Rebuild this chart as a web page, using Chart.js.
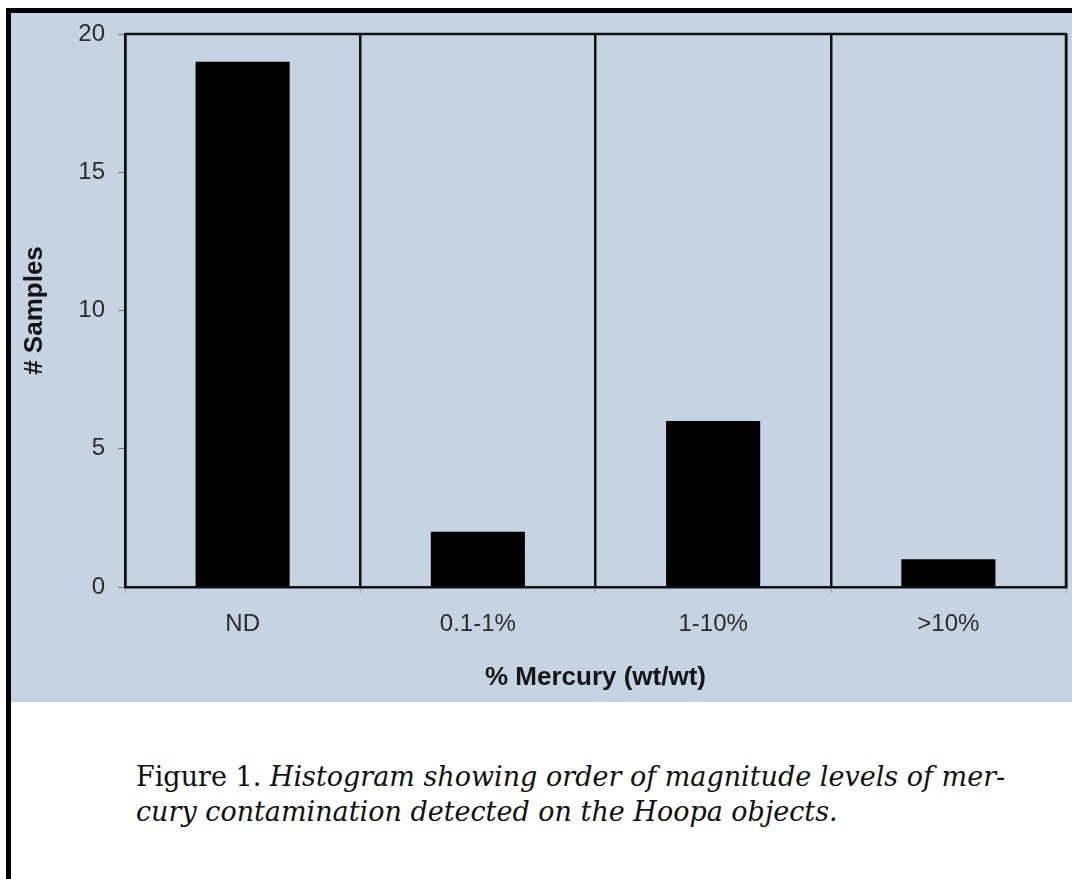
<!DOCTYPE html>
<html>
<head>
<meta charset="utf-8">
<script src="https://cdn.jsdelivr.net/npm/chart.js@4.4.0/dist/chart.umd.min.js"></script>
<style>
  html, body { margin: 0; padding: 0; background: #fff; }
  body { width: 1072px; height: 879px; position: relative; overflow: hidden; }
  #frame { position: absolute; left: 6px; top: 8px; right: 0; bottom: 0;
           border-left: 5px solid #000; border-top: 5px solid #000; }
  #panel { position: absolute; left: 11px; top: 13px; width: 1061px; height: 689px; background: #c6d3e2; }
  #caption { position: absolute; left: 136px; top: 759px; font-family: "DejaVu Serif", serif;
             font-size: 27px; line-height: 35px; color: #111; white-space: pre; }
  #caption i { font-style: italic; }
</style>
</head>
<body>
<div id="frame"></div>
<div id="panel"><canvas id="myChart" width="1061" height="689"></canvas></div>
<div id="caption">Figure 1. <i>Histogram showing order of magnitude levels of mer-</i>
<i>cury contamination detected on the Hoopa objects.</i></div>
<script>
const xLabels = ["ND", "0.1-1%", "1-10%", ">10%"];
const sampleCounts = [19, 2, 6, 1];
const yTicks = [0, 5, 10, 15, 20];

const axisFont = "'Liberation Sans', Arial, sans-serif";

// draws the top and right edges of the plot box
const plotFrame = {
  id: "plotFrame",
  afterDraw(chart) {
    const { ctx, chartArea: a } = chart;
    ctx.save();
    ctx.strokeStyle = "#111";
    ctx.lineWidth = 2.5;
    ctx.beginPath();
    ctx.moveTo(a.left, a.top);
    ctx.lineTo(a.right, a.top);
    ctx.lineTo(a.right, a.bottom);
    ctx.stroke();
    ctx.restore();
  }
};

new Chart("myChart", {
  type: "bar",
  data: {
    labels: xLabels,
    datasets: [
      {
        data: sampleCounts,
        backgroundColor: "#000",
        borderWidth: 0,
        barPercentage: 0.4,
        categoryPercentage: 1.0,
      },
    ],
  },
  options: {
    responsive: false,
    animation: false,
    layout: { padding: { top: 21, right: 6, left: 0, bottom: 0 } },
    plugins: {
      legend: { display: false },
      tooltip: { enabled: false },
    },
    scales: {
      x: {
        afterFit(scale) { scale.height = 115; },
        grid: {
          offset: true,
          color: "#111",
          lineWidth: 2.5,
          tickLength: 6,
          tickColor: "#9aa5b3",
          tickWidth: 1,
        },
        border: { color: "#111", width: 2.5 },
        ticks: {
          color: "#2b2b2b",
          padding: 17,
          font: { family: axisFont, size: 24 },
        },
        title: {
          display: true,
          text: "% Mercury (wt/wt)",
          color: "#151515",
          font: { family: axisFont, size: 26, weight: "bold" },
          padding: { top: 0, bottom: 9 },
        },
      },
      y: {
        min: 0,
        max: 20,
        afterFit(scale) {
          scale.width = 114;
          scale.paddingTop = 0;
          scale.paddingBottom = 0;
        },
        afterBuildTicks(scale) { scale.ticks = yTicks.map(v => ({ value: v })); },
        grid: {
          drawOnChartArea: false,
          drawTicks: true,
          tickLength: 7,
          color: "#6d7580",
        },
        border: { color: "#111", width: 2.5 },
        ticks: {
          color: "#2b2b2b",
          padding: 13,
          font: { family: axisFont, size: 24 },
        },
        title: {
          display: true,
          text: "# Samples",
          color: "#151515",
          font: { family: axisFont, size: 26, weight: "bold" },
          padding: { top: 8, bottom: 0 },
        },
      },
    },
  },
  plugins: [plotFrame],
});
</script>
</body>
</html>
